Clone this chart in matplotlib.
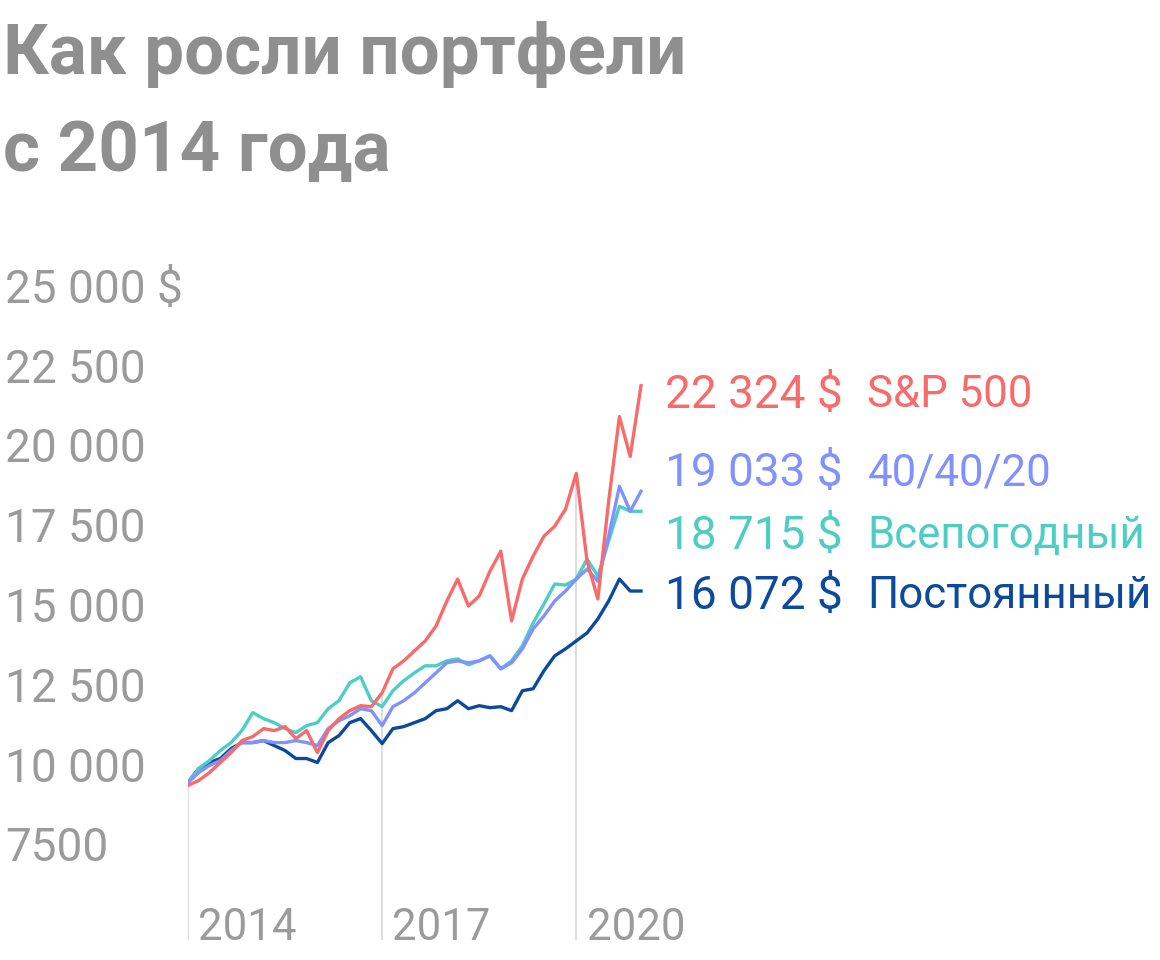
import numpy as np
import pandas as pd
import matplotlib
matplotlib.use("Agg")
import matplotlib.pyplot as plt
import matplotlib.transforms as mtransforms

plt.rcParams['font.family'] = ['Roboto', 'DejaVu Sans']

# bi-monthly points, Jan 2014 .. Jan 2021
dates = 2014 + np.arange(43) / 6.0

sp500 = [9469, 9625, 9875, 10188, 10500, 10875, 11000, 11250, 11188, 11313, 10938, 11188,
         10500, 11188, 11563, 11813, 11969, 11938, 12375, 13125, 13375, 13688, 14000, 14469,
         15250, 15938, 15094, 15406, 16188, 16813, 14625, 15938, 16656, 17281, 17594, 18125,
         19250, 16500, 15313, 18375, 21031, 19781, 22000]
p404020 = [9563, 9875, 10094, 10250, 10563, 10813, 10813, 10875, 10813, 10813, 10875, 10813,
           10719, 11250, 11500, 11656, 11875, 11813, 11344, 11938, 12125, 12375, 12688, 13000,
           13313, 13375, 13313, 13375, 13531, 13125, 13313, 13750, 14375, 14781, 15250, 15563,
           15938, 16250, 15875, 17281, 18844, 18063, 18688]
allweather = [9563, 10000, 10250, 10563, 10813, 11188, 11750, 11563, 11438, 11250, 11125, 11344,
              11438, 11875, 12125, 12688, 12875, 12125, 11938, 12438, 12750, 13000, 13219, 13219,
              13375, 13438, 13250, 13375, 13531, 13125, 13375, 13844, 14563, 15156, 15781, 15750,
              15938, 16563, 16031, 17125, 18219, 18063, 18063]
permanent = [9563, 10000, 10188, 10313, 10625, 10813, 10813, 10875, 10719, 10563, 10313, 10313,
             10188, 10813, 11031, 11438, 11563, 11188, 10781, 11250, 11313, 11438, 11563, 11813,
             11875, 12125, 11875, 11969, 11906, 11938, 11813, 12438, 12500, 13063, 13531, 13750,
             14000, 14250, 14688, 15250, 15938, 15563, 15563]

series = [sp500, p404020, allweather, permanent]
names = ["S&P 500", "40/40/20", "Всепогодный", "Постояннный"]
end_labels = ["22 324 $", "19 033 $", "18 715 $", "16 072 $"]
colors = ["#f96a6a", "#8191ff", "#4ecdc4", "#0b4a9c"]
label_y = [21700, 19250, 17300, 15400]

yticks = [7500, 10000, 12500, 15000, 17500, 20000, 22500, 25000]
ytick_labels = ["7500", "10 000", "12 500", "15 000", "17 500", "20 000", "22 500", "25 000 $"]
year_marks = [2014, 2017, 2020]

fig = plt.figure(figsize=(11.6, 9.6), dpi=100)
ax = fig.add_axes([188 / 1160, 20 / 960, 972 / 1160, 660 / 960])
ax.set_xlim(2014, 2029.02)
ax.set_ylim(4625, 25312)
ax.axis('off')

gray = "#9b9b9b"
fs = 31.5
for yr in year_marks:
    top = max(np.interp(yr, dates, s) for s in series)
    ax.vlines(yr, 4625, top, color="#d6d6d6", lw=1.2, zorder=0)
    ax.text(yr + 0.16, 5000, str(yr), fontsize=fs, color=gray, ha='left', va='center')

for s, c in zip(series[::-1], colors[::-1]):
    ax.plot(dates, s, color=c, lw=2.4, solid_joinstyle='round')

for lab, name, c, y in zip(end_labels, names, colors, label_y):
    ax.text(2021.37, y, lab, fontsize=fs + 1.5, color=c, ha='left', va='center')
    ax.text(2024.5, y, name, fontsize=fs, color=c, ha='left', va='center')

trans = mtransforms.blended_transform_factory(fig.transFigure, ax.transData)
for v, t in zip(yticks, ytick_labels):
    ax.text(5 / 1160, v, t, transform=trans, fontsize=fs + 1.5, color=gray, ha='left', va='center')

fig.text(3 / 1160, 1 - 54 / 960, "Как росли портфели", fontsize=51, fontweight='bold',
         color="#8f8f8f", ha='left', va='center')
fig.text(3 / 1160, 1 - 152 / 960, "с 2014 года", fontsize=51, fontweight='bold',
         color="#8f8f8f", ha='left', va='center')

fig.savefig("out.png", dpi=100)
